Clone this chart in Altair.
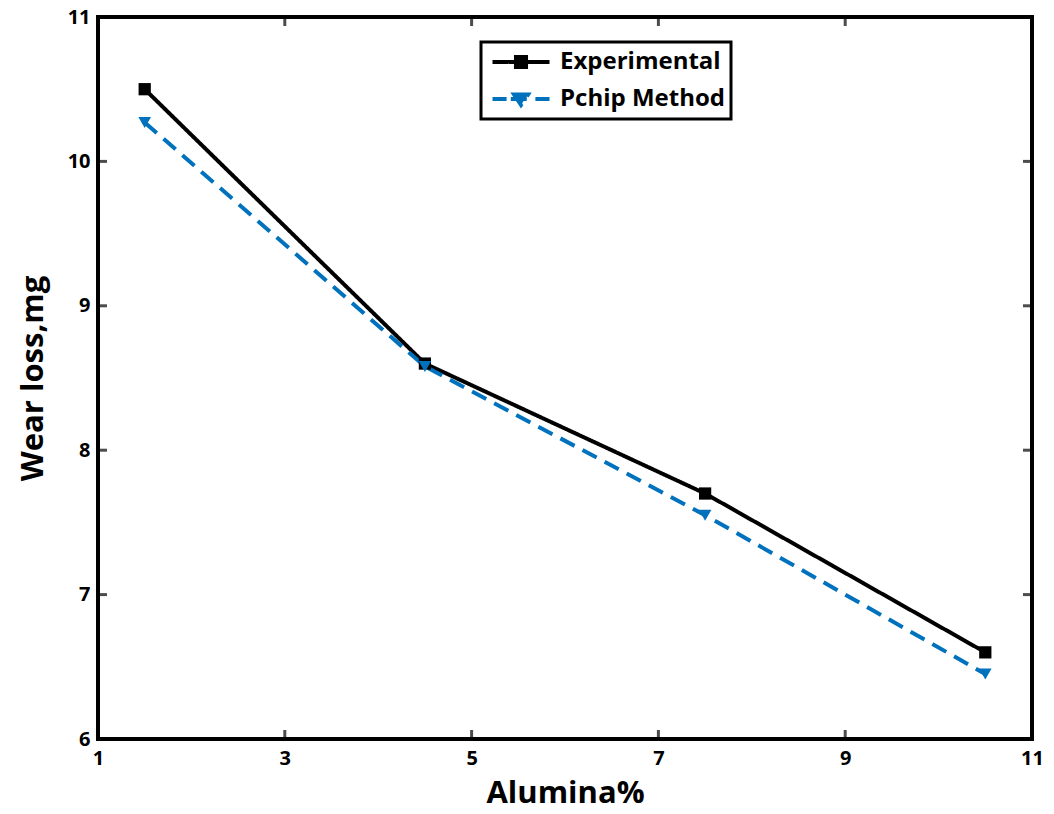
import altair as alt
import pandas as pd

alumina = [1.5, 4.5, 7.5, 10.5]
experimental = [10.5, 8.6, 7.7, 6.6]
pchip = [10.27, 8.58, 7.55, 6.45]
series_names = ["Experimental", "Pchip Method"]
x_ticks = [1, 3, 5, 7, 9, 11]
y_ticks = [6, 7, 8, 9, 10, 11]

W, H = 934, 722
FONT = "Open Sans"
BLUE = "#0072BD"

df = pd.DataFrame({
    "x": alumina * 2,
    "y": experimental + pchip,
    "series": [series_names[0]] * 4 + [series_names[1]] * 4,
})
df_exp = pd.DataFrame({"x": alumina, "y": experimental})
df_pch = pd.DataFrame({"x": alumina, "y": pchip})
xt = pd.DataFrame({"v": x_ticks})
yt = pd.DataFrame({"v": y_ticks})

xs = alt.Scale(domain=[1, 11], nice=False, zero=False)
ys = alt.Scale(domain=[6, 11], nice=False, zero=False)
cs = alt.Scale(domain=series_names, range=["black", BLUE])

xaxis = alt.Axis(values=x_ticks, title="Alumina%", grid=False, ticks=False, domain=False,
                 labelPadding=9, titlePadding=10, format="d", labelFlush=False)
yaxis = alt.Axis(values=y_ticks, title="Wear loss,mg", grid=False, ticks=False, domain=False,
                 labelPadding=8, titlePadding=18, format="d", labelFlush=False)

path_exp = "M-2.375,0H2.375M-0.42,-0.42H0.42V0.42H-0.42Z"
path_pch = "M-2.375,0H-1.2M-0.85,0H0.85M1.2,0H2.375M-0.58,-0.37H0.58L0,0.5Z"
shape_expr = "datum.value === '%s' ? '%s' : '%s'" % (series_names[0], path_exp, path_pch)
color_expr = "scale('color', datum.value)"

leg = alt.Legend(
    title=None, orient="none", legendX=383, legendY=25,
    symbolOpacity=1, symbolStrokeWidth=4, symbolSize=576, symbolOffset=20,
    symbolType={"expr": shape_expr},
    symbolFillColor={"expr": color_expr},
    symbolStrokeColor={"expr": color_expr},
    labelFont=FONT, labelFontSize=24, labelFontWeight="bold", labelLimit=400,
    labelColor="black", rowPadding=9, labelOffset=25,
    padding=6, strokeColor="black",
)

lines = alt.Chart(df).mark_line(strokeWidth=4).encode(
    x=alt.X("x:Q", scale=xs, axis=xaxis),
    y=alt.Y("y:Q", scale=ys, axis=yaxis),
    color=alt.Color("series:N", scale=cs, legend=leg),
    strokeDash=alt.StrokeDash("series:N", scale=alt.Scale(domain=series_names, range=[[1, 0], [16, 9]]), legend=None),
)

pts_exp = alt.Chart(df_exp).mark_point(filled=True, opacity=1, size=150, shape="square", color="black").encode(
    x=alt.X("x:Q", scale=xs), y=alt.Y("y:Q", scale=ys))
pts_pch = alt.Chart(df_pch).mark_point(filled=True, opacity=1, size=160, shape="triangle-down", color=BLUE).encode(
    x=alt.X("x:Q", scale=xs), y=alt.Y("y:Q", scale=ys))

TL = 9
tick_bottom = alt.Chart(xt).mark_tick(orient="vertical", size=TL, thickness=3, color="black").encode(
    x=alt.X("v:Q", scale=xs), y=alt.value(H - TL / 2))
tick_top = alt.Chart(xt).mark_tick(orient="vertical", size=TL, thickness=3, color="black").encode(
    x=alt.X("v:Q", scale=xs), y=alt.value(TL / 2))
tick_left = alt.Chart(yt).mark_tick(orient="horizontal", size=TL, thickness=3, color="black").encode(
    y=alt.Y("v:Q", scale=ys), x=alt.value(TL / 2))
tick_right = alt.Chart(yt).mark_tick(orient="horizontal", size=TL, thickness=3, color="black").encode(
    y=alt.Y("v:Q", scale=ys), x=alt.value(W - TL / 2))

chart = alt.layer(tick_bottom, tick_top, tick_left, tick_right, lines, pts_exp, pts_pch).properties(
    width=W, height=H,
    autosize=alt.AutoSizeParams(type="none"),
    padding={"left": 98, "top": 17, "right": 22, "bottom": 75},
    background="white",
).configure_view(
    stroke="black", strokeWidth=4
).configure_legend(
    strokeWidth=3
).configure_axis(
    labelFont=FONT, labelFontSize=20, labelFontWeight="bold", labelColor="black",
    titleFont=FONT, titleFontSize=31, titleFontWeight="bold", titleColor="black",
)

chart.save("out.html", embed_options={"renderer": "svg", "actions": False})
